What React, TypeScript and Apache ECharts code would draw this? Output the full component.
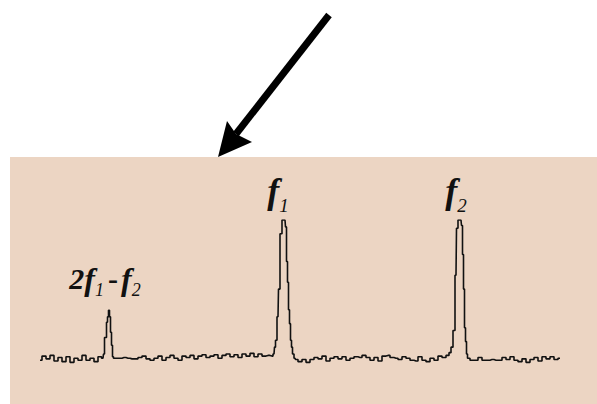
import React, { useEffect, useRef } from "react";
import * as echarts from "echarts";

// Frequency axis (arbitrary units) and amplitude (arbitrary units)
const freq: number[] = [
  0, 1, 2, 3, 4, 5, 6, 7, 8, 9, 10, 11, 12, 13, 14, 15,
  15.75, 16, 16.25, 16.5, 16.75, 17, 17.25, 17.5, 17.75, 18, 18.25, 18.5,
  19, 20, 21, 22, 23, 24, 25, 26, 27, 28, 29, 30, 31, 32, 33, 34, 35, 36, 37, 38,
  39, 40, 41, 42, 43, 44, 45, 46, 47, 48, 49, 50, 51, 52, 53, 54, 55, 56, 57,
  58, 58.5, 58.75, 59, 59.5, 59.75, 60.25, 60.75, 61.25, 61.5, 61.75, 62, 62.25, 62.5, 62.75, 63, 63.25, 63.75,
  64, 65, 66, 67, 68, 69, 70, 71, 72, 73, 74, 75, 76, 77, 78, 79, 80, 81, 82, 83,
  84, 85, 86, 87, 88, 89, 90, 91, 92, 93, 94, 95, 96, 97, 98, 99, 100, 101, 102,
  102.5, 103, 103.5, 104, 104.25, 104.75, 105.25, 105.5, 105.75, 106, 106.25, 106.5, 106.75, 107,
  108, 109, 110, 111, 112, 113, 114, 115, 116, 117, 118, 119, 120, 121, 122, 123, 124, 125, 126, 127, 128, 129, 130,
];

const amplitude: number[] = [
  -1.5, 1.5, -0.5, 2, -2, 0.5, -2.5, 1, -3, 0, -1.5, 2, -1.5, 0, -2.5, 1,
  0, 3, 15, 15, 26, 30, 34.7, 30, 18.8, 9.4, 1, 0,
  0, 0, 0.5, 0, -0.5, -0.5, 0.5, 1.5, -0.5, -1.5, 0, 1.5, -1.5, 0.5, 2, 0, -1.5, 1.5, 0.5, 2,
  -0.5, 1.5, 2.5, 0.5, 1.5, 2.5, 0, 2, 3, 1, 2.5, 0.5, 3, 1.5, 3.5, 1, 3, 1.5, 2,
  1.5, 3, 8, 13, 30, 50, 90, 100, 100, 95, 70, 55, 35, 25, 13, 8, 3, 0,
  -1, -2.5, -1, -3, -1, 0.5, -0.5, 1.5, -2, 0, 1, -0.5, 1, -1.5, 0, 1, 0.5, 2, 0.5, -1.5,
  0.5, -2, 1.5, 2, 0.5, 0, -1, 1, 0, -1.5, -2, 1, -1.5, -2.5, 0, -1.5, 1.5, 0.5, 2,
  4, 8, 20, 60, 94, 100, 100, 96, 75, 50, 22, 12, 3, 0,
  -1.5, -1.5, 0.5, -1.5, -1.5, -1, -1.5, -1.5, 0.5, -1, 1, -1.5, -2.5, -0.5, -3, -1, 0.5, -2, 1, -0.5, 1, -1, 0,
];

// Peak labels
const peakFreq: number[] = [17.25, 61, 105];
const peakAmp: number[] = [34.7, 100, 100];
const peakLabels: string[] = [
  "{n|2}{f|f}{s|1}{m|-}{f|f}{s|2}",
  "{F|f}{S|1}",
  "{F|f}{S|2}",
];

export default function App() {
  const ref = useRef<HTMLDivElement>(null);

  useEffect(() => {
    if (!ref.current) return;
    const chart = echarts.init(ref.current, undefined, { renderer: "svg" });
    const serif = "Liberation Serif";
    const data = freq.map((f, i) => [f, amplitude[i]]);
    const labelOffsets = [
      [-4, 0],
      [-6, 0],
      [-4, 0],
    ];
    const labelDistance = [11, 5, 5];
    chart.setOption({
      animation: false,
      backgroundColor: "#ffffff",
      grid: { left: 40, right: 37, top: 220, bottom: 32 },
      xAxis: { type: "value", min: 0, max: 130, show: false },
      yAxis: { type: "value", min: -10, max: 100, show: false },
      graphic: [
        {
          type: "rect",
          z: -10,
          silent: true,
          shape: { x: 10, y: 157, width: 587, height: 247 },
          style: { fill: "#ecd5c3" },
        },
        {
          type: "line",
          z: 10,
          shape: { x1: 329, y1: 15, x2: 236, y2: 134 },
          style: { stroke: "#000000", lineWidth: 7, lineCap: "butt" },
        },
        {
          type: "polygon",
          z: 10,
          shape: {
            points: [
              [218, 157],
              [227, 121],
              [236, 134],
              [252, 142],
            ],
          },
          style: { fill: "#000000" },
        },
      ],
      series: [
        {
          type: "line",
          data,
          step: "middle",
          showSymbol: false,
          symbol: "none",
          z: 2,
          lineStyle: { color: "#111111", width: 1.6 },
          markPoint: {
            symbol: "circle",
            symbolSize: 0,
            data: peakFreq.map((f, i) => ({
              coord: [f, peakAmp[i]],
              value: peakLabels[i],
              label: {
                show: true,
                position: "top",
                distance: labelDistance[i],
                offset: labelOffsets[i],
                formatter: peakLabels[i],
                color: "#111111",
                fontFamily: serif,
                rich: {
                  n: { fontFamily: serif, fontSize: 30, fontWeight: "bold", fontStyle: "italic", color: "#111", lineHeight: 41 },
                  f: { fontFamily: serif, fontSize: 32, fontWeight: "bold", fontStyle: "italic", color: "#111", lineHeight: 41 },
                  m: { fontFamily: serif, fontSize: 30, fontWeight: "bold", color: "#111", lineHeight: 41, padding: [0, 3, 0, 4] },
                  s: { fontFamily: serif, fontSize: 18, fontStyle: "italic", color: "#111", lineHeight: 16, verticalAlign: "bottom" },
                  F: { fontFamily: serif, fontSize: 36, fontWeight: "bold", fontStyle: "italic", color: "#111", lineHeight: 48 },
                  S: { fontFamily: serif, fontSize: 19, fontStyle: "italic", color: "#111", lineHeight: 17, verticalAlign: "bottom" },
                },
              },
            })),
          },
        },
      ],
    });
    return () => chart.dispose();
  }, []);

  return (
    <div
      ref={ref}
      style={{ position: "absolute", left: 0, top: 0, width: 597, height: 404 }}
    />
  );
}
